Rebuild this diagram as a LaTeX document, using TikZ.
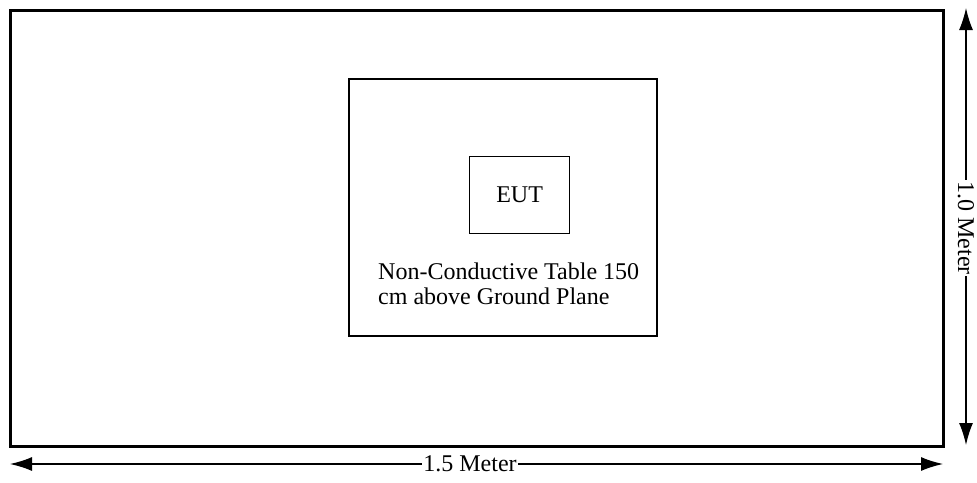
\documentclass[tikz,border=0pt]{standalone}
\usepackage{fontspec}
\setmainfont{Liberation Serif}
\usetikzlibrary{arrows.meta}
\begin{document}
\begin{tikzpicture}[x=1pt,y=-1pt,
  thin box/.style={draw,line width=1.3pt},
  dimline/.style={line width=1.3pt,{Latex[length=22pt,width=14pt]}-{Latex[length=22pt,width=14pt]}},
  lbl/.style={font=\fontsize{24}{25}\selectfont,inner sep=0pt}]
\useasboundingbox (0,0) rectangle (977,482);
\draw[line width=3pt] (10,10) rectangle (943,446);
\draw[thin box] (349,79) rectangle (657,336);
\node[thin box,minimum width=100pt,minimum height=77pt,anchor=north west] (eut) at (469,156) {};
\node[lbl] at (eut.center) {EUT};
\node[lbl,align=left,anchor=north west] (tbl) at (378,263) {Non-Conductive Table 150\\cm above Ground Plane};
\coordinate (hl) at (10,464);
\coordinate (hr) at (943,464);
\coordinate (vt) at (966,8);
\coordinate (vb) at (966,445);
\draw[dimline] (hl) -- (hr);
\draw[dimline] (vt) -- (vb);
\node[lbl,fill=white,inner xsep=1pt] (hlab) at (470,464) {1.5 Meter};
\node[lbl,fill=white,inner xsep=1pt,rotate=-90] (vlab) at (966,228) {1.0 Meter};
\end{tikzpicture}
\end{document}
